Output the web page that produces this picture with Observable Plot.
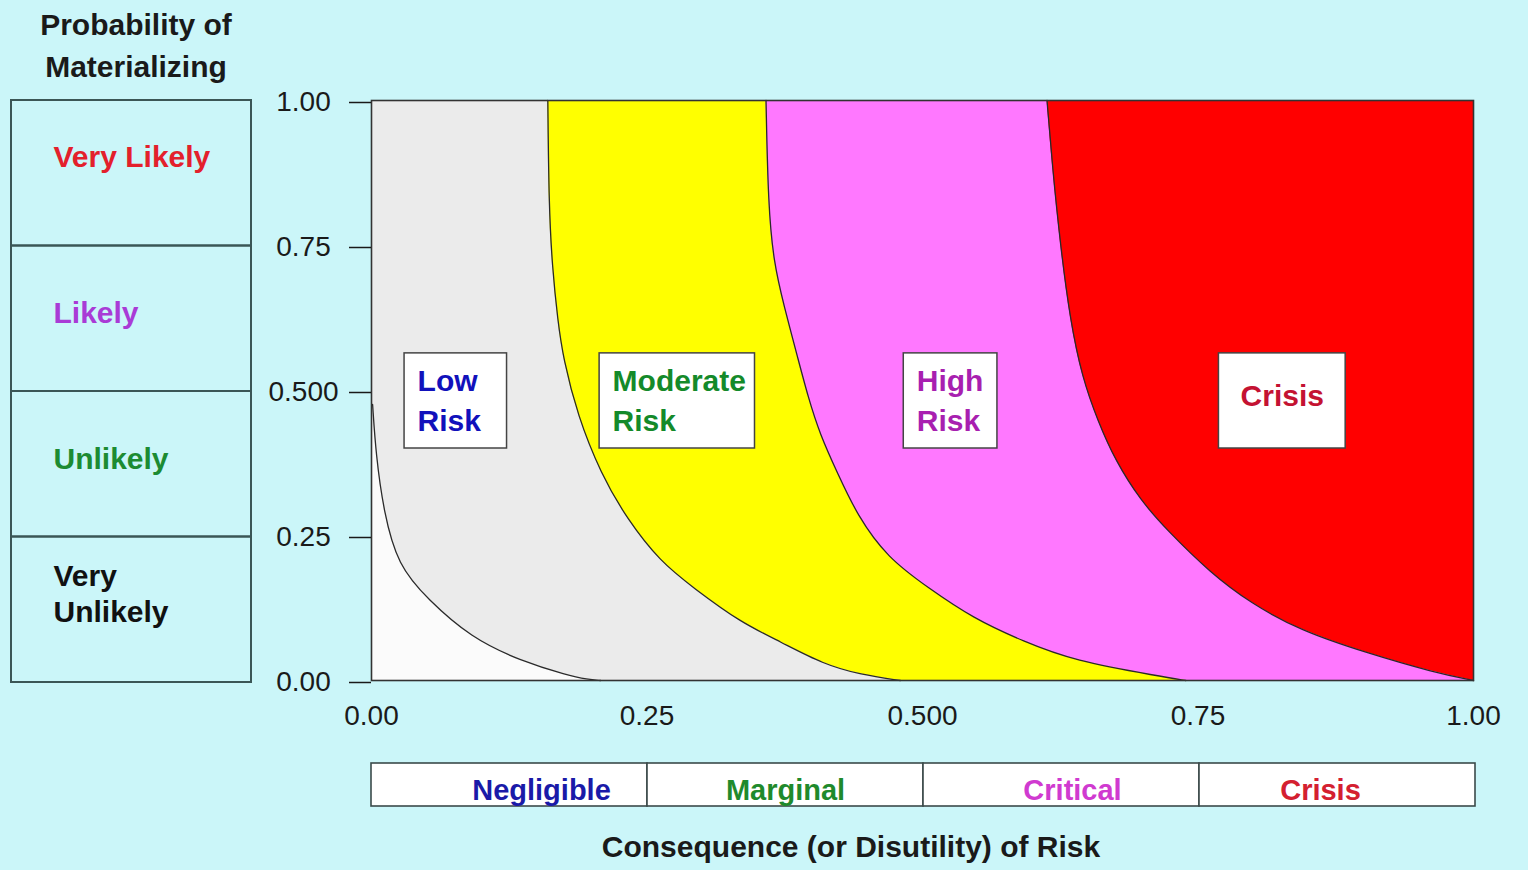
<!DOCTYPE html>
<html><head><meta charset="utf-8">
<script src="https://cdn.jsdelivr.net/npm/d3@7"></script>
<script src="https://cdn.jsdelivr.net/npm/@observablehq/plot@0.6"></script>
<style>
html,body{margin:0;padding:0;background:#cbf6f9;}
#wrap{position:relative;width:1528px;height:870px;overflow:hidden;background:#cbf6f9;font-family:"Liberation Sans",Arial,sans-serif;}
.abs{position:absolute;}
.title{font-weight:bold;font-size:30px;color:#1a1a1a;text-align:center;white-space:nowrap;}
</style></head><body>
<div id="wrap">
  <div class="abs title" style="left:16px;top:4px;width:240px;line-height:42px;">Probability of<br>Materializing</div>
  <div class="abs" id="main" style="left:0;top:0;"></div>
  <div class="abs" id="left" style="left:10px;top:0;"></div>
  <div class="abs" id="strip" style="left:0;top:760px;"></div>
  <div class="abs title" style="left:351px;top:830px;width:1000px;line-height:34px;">Consequence (or Disutility) of Risk</div>
</div>
<script>
// ---- data ----
const probRows   = ["Very Likely", "Likely", "Unlikely", "Very\nUnlikely"];
const probLo     = [0.75, 0.5, 0.25, 0];
const probHi     = [1, 0.75, 0.5, 0.25];
const probColors = ["#e3202c", "#a93bd6", "#1c8b32", "#111111"];

const consCats   = ["Negligible", "Marginal", "Critical", "Crisis"];
const consLo     = [0, 0.25, 0.5, 0.75];
const consHi     = [0.25, 0.5, 0.75, 1];
const consColors = ["#1a1aa8", "#1f8a2c", "#d03ad0", "#d42030"];

const xTickValues = [0, 0.25, 0.5, 0.75, 1];
const xTickLabels = ["0.00", "0.25", "0.500", "0.75", "1.00"];
const yTickValues = [0, 0.25, 0.5, 0.75, 1];
const yTickLabels = ["0.00", "0.25", "0.500", "0.75", "1.00"];

// boundary curves (consequence x, probability y)
const lowEdgeX  = [0.001, 0.004, 0.011, 0.024, 0.051, 0.090, 0.135, 0.178, 0.196, 0.208];
const lowEdgeY  = [0.476, 0.390, 0.291, 0.198, 0.140, 0.074, 0.034, 0.009, 0.002, 0];
const modEdgeX  = [0.160, 0.161, 0.164, 0.169, 0.174, 0.187, 0.208, 0.232, 0.262, 0.292, 0.335, 0.371, 0.410, 0.444, 0.480];
const modEdgeY  = [1, 0.819, 0.714, 0.621, 0.555, 0.457, 0.357, 0.278, 0.205, 0.160, 0.100, 0.067, 0.028, 0.010, 0];
const highEdgeX = [0.358, 0.360, 0.365, 0.374, 0.387, 0.396, 0.407, 0.423, 0.441, 0.468, 0.505, 0.546, 0.592, 0.637, 0.716, 0.739];
const highEdgeY = [1, 0.819, 0.721, 0.648, 0.555, 0.490, 0.424, 0.357, 0.284, 0.212, 0.160, 0.107, 0.067, 0.034, 0.007, 0];
const critEdgeX = [0.613, 0.618, 0.625, 0.634, 0.645, 0.659, 0.675, 0.698, 0.722, 0.761, 0.798, 0.843, 0.904, 0.964, 1];
const critEdgeY = [1, 0.884, 0.753, 0.621, 0.522, 0.448, 0.379, 0.310, 0.259, 0.186, 0.133, 0.086, 0.047, 0.014, 0];

const riskLabels = ["Low\nRisk", "Moderate\nRisk", "High\nRisk", "Crisis"];
const riskColors = ["#1111bb", "#148a2a", "#a81fb0", "#c41232"];
const riskBoxLo  = [0.030, 0.207, 0.483, 0.769];
const riskBoxHi  = [0.123, 0.348, 0.568, 0.884];
const riskBoxBottom = 0.400, riskBoxTop = 0.564;

// ---- build tables ----
const zip = (xs, ys) => xs.map((x, i) => ({x, y: ys[i]}));
const lowEdge = zip(lowEdgeX, lowEdgeY);
const modEdge = zip(modEdgeX, modEdgeY);
const highEdge = zip(highEdgeX, highEdgeY);
const critEdge = zip(critEdgeX, critEdgeY);
const rows = probRows.map((t, i) => ({t, lo: probLo[i], hi: probHi[i], c: probColors[i], i}));
const cats = consCats.map((t, i) => ({t, lo: consLo[i], hi: consHi[i], c: consColors[i], i}));
const boxes = riskLabels.map((t, i) => ({t, x1: riskBoxLo[i], x2: riskBoxHi[i], y1: riskBoxBottom, y2: riskBoxTop, c: riskColors[i], i}));
const xLab = new Map(xTickValues.map((v, i) => [v, xTickLabels[i]]));
const yLab = new Map(yTickValues.map((v, i) => [v, yTickLabels[i]]));

const font = '"Liberation Sans", Arial, sans-serif';
const style = {background: "transparent", fontFamily: font, overflow: "visible"};
const CURVE = "basis";
const edgeArea = (d, fill) => Plot.areaX(d, {x: "x", y: "y", curve: CURVE, fill});
const edgeLine = (d) => Plot.line(d, {x: "x", y: "y", curve: CURVE, stroke: "#2a2a2a", strokeWidth: 1.3});

const main = Plot.plot({
  width: 1528, height: 740,
  marginLeft: 371, marginRight: 55, marginTop: 100, marginBottom: 60,
  x: {domain: [0, 1]}, y: {domain: [0, 1]},
  color: {type: "identity"},
  style,
  marks: [
    Plot.frame({fill: "#ff0000"}),
    edgeArea(critEdge, "#ff78ff"),
    edgeArea(highEdge, "#ffff00"),
    edgeArea(modEdge, "#ebebeb"),
    edgeArea(lowEdge, "#fbfbfb"),
    edgeLine(critEdge), edgeLine(highEdge), edgeLine(modEdge), edgeLine(lowEdge),
    Plot.frame({stroke: "#333", strokeWidth: 1.6}),
    Plot.rect(boxes, {x1: "x1", x2: "x2", y1: "y1", y2: "y2", fill: "white", stroke: "#444", strokeWidth: 1.5}),
    Plot.text(boxes.filter(d => d.i < 3), {x: "x1", y: d => (d.y1 + d.y2) / 2, text: "t", dx: 13, dy: -3, textAnchor: "start",
      fill: "c", fontSize: 30, fontWeight: "bold", lineHeight: 1.33}),
    Plot.text(boxes.filter(d => d.i === 3), {x: d => (d.x1 + d.x2) / 2, y: d => (d.y1 + d.y2) / 2, text: "t",
      fill: "c", fontSize: 30, fontWeight: "bold", dy: -5}),
    Plot.axisY(yTickValues, {tickSize: 22, tickPadding: 46, textAnchor: "middle", fontSize: 28, color: "#1a1a1a",
      strokeWidth: 1.5, dy: 2, tickFormat: d => yLab.get(d)}),
    Plot.axisX(xTickValues, {tickSize: 0, tickPadding: 25, fontSize: 28, color: "#1a1a1a",
      tickFormat: d => xLab.get(d)})
  ]
});
document.getElementById("main").appendChild(main);

const left = Plot.plot({
  width: 242, height: 740,
  marginLeft: 1, marginRight: 1, marginTop: 100, marginBottom: 58,
  y: {domain: [0, 1], axis: null},
  color: {type: "identity"},
  style,
  marks: [
    Plot.rect(rows, {y1: "lo", y2: "hi", fill: "none", stroke: "#3b5656", strokeWidth: 2}),
    Plot.text(rows.filter(d => d.i === 0 || d.i === 3), {y: d => (d.lo + d.hi) / 2, text: "t", frameAnchor: "left", dx: 42, dy: -17,
      textAnchor: "start", fill: "c", fontSize: 30, fontWeight: "bold", lineHeight: 1.17}),
    Plot.text(rows.filter(d => d.i === 1 || d.i === 2), {y: d => (d.lo + d.hi) / 2, text: "t", frameAnchor: "left", dx: 42, dy: -5,
      textAnchor: "start", fill: "c", fontSize: 30, fontWeight: "bold"})
  ]
});
document.getElementById("left").appendChild(left);

const stripLabelShift = [32, 0, 11, -17];
const strip = Plot.plot({
  width: 1528, height: 50,
  marginLeft: 371, marginRight: 53, marginTop: 3, marginBottom: 4,
  x: {domain: [0, 1], axis: null},
  color: {type: "identity"},
  style,
  marks: [
    Plot.rect(cats, {x1: "lo", x2: "hi", fill: "white", stroke: "#3b4a4a", strokeWidth: 1.6}),
    ...cats.map((c, i) => Plot.text([c], {x: d => (d.lo + d.hi) / 2, text: "t", frameAnchor: "middle", dy: 6, dx: stripLabelShift[i],
      fill: "c", fontSize: 29, fontWeight: "bold"}))
  ]
});
document.getElementById("strip").appendChild(strip);
</script>
</body></html>
